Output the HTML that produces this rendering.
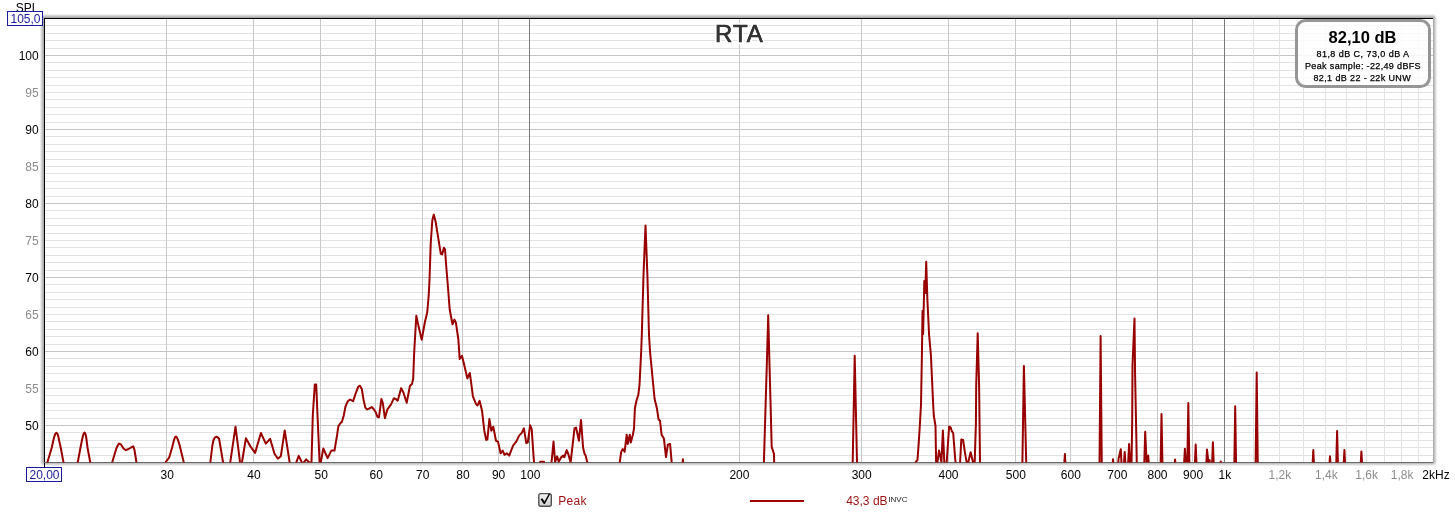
<!DOCTYPE html><html><head><meta charset="utf-8"><style>html,body{margin:0;padding:0;width:1455px;height:515px;overflow:hidden;background:#fff}</style></head><body><svg width="1455" height="515" viewBox="0 0 1455 515" style="position:absolute;left:0;top:0;will-change:transform"><defs><linearGradient id="shT" x1="0" y1="1" x2="0" y2="0"><stop offset="0" stop-color="#a8a8a8"/><stop offset="1" stop-color="#ffffff"/></linearGradient><linearGradient id="shL" x1="1" y1="0" x2="0" y2="0"><stop offset="0" stop-color="#a8a8a8"/><stop offset="1" stop-color="#ffffff"/></linearGradient><linearGradient id="shR" x1="0" y1="0" x2="1" y2="0"><stop offset="0" stop-color="#b0b0b0"/><stop offset="1" stop-color="#ffffff"/></linearGradient><linearGradient id="shB" x1="0" y1="0" x2="0" y2="1"><stop offset="0" stop-color="#b0b0b0"/><stop offset="1" stop-color="#ffffff"/></linearGradient><linearGradient id="cbg" x1="0" y1="0" x2="0" y2="1"><stop offset="0" stop-color="#f4f4f4"/><stop offset="1" stop-color="#cfcfcf"/></linearGradient></defs><rect x="0" y="0" width="1455" height="515" fill="#ffffff"/><rect x="40" y="14" width="1397" height="452" rx="4.5" fill="#eeeeee"/><rect x="41" y="15" width="1395" height="450" rx="3.5" fill="#d8d8d8"/><rect x="42" y="16" width="1393" height="448" rx="2.5" fill="#c2c2c2"/><rect x="43" y="17" width="1391" height="446" rx="1.5" fill="#acacac"/><rect x="44" y="18" width="1389" height="444" fill="#fff"/><g shape-rendering="crispEdges"><rect x="44" y="455" width="1389" height="1" fill="#e2e2e2"/><rect x="44" y="447" width="1389" height="1" fill="#e2e2e2"/><rect x="44" y="440" width="1389" height="1" fill="#e2e2e2"/><rect x="44" y="432" width="1389" height="1" fill="#e2e2e2"/><rect x="44" y="425" width="1389" height="1" fill="#c4c4c4"/><rect x="44" y="418" width="1389" height="1" fill="#e2e2e2"/><rect x="44" y="410" width="1389" height="1" fill="#e2e2e2"/><rect x="44" y="403" width="1389" height="1" fill="#e2e2e2"/><rect x="44" y="395" width="1389" height="1" fill="#e2e2e2"/><rect x="44" y="388" width="1389" height="1" fill="#e2e2e2"/><rect x="44" y="381" width="1389" height="1" fill="#e2e2e2"/><rect x="44" y="373" width="1389" height="1" fill="#e2e2e2"/><rect x="44" y="366" width="1389" height="1" fill="#e2e2e2"/><rect x="44" y="358" width="1389" height="1" fill="#e2e2e2"/><rect x="44" y="351" width="1389" height="1" fill="#c4c4c4"/><rect x="44" y="344" width="1389" height="1" fill="#e2e2e2"/><rect x="44" y="336" width="1389" height="1" fill="#e2e2e2"/><rect x="44" y="329" width="1389" height="1" fill="#e2e2e2"/><rect x="44" y="321" width="1389" height="1" fill="#e2e2e2"/><rect x="44" y="314" width="1389" height="1" fill="#e2e2e2"/><rect x="44" y="307" width="1389" height="1" fill="#e2e2e2"/><rect x="44" y="299" width="1389" height="1" fill="#e2e2e2"/><rect x="44" y="292" width="1389" height="1" fill="#e2e2e2"/><rect x="44" y="284" width="1389" height="1" fill="#e2e2e2"/><rect x="44" y="277" width="1389" height="1" fill="#c4c4c4"/><rect x="44" y="270" width="1389" height="1" fill="#e2e2e2"/><rect x="44" y="262" width="1389" height="1" fill="#e2e2e2"/><rect x="44" y="255" width="1389" height="1" fill="#e2e2e2"/><rect x="44" y="247" width="1389" height="1" fill="#e2e2e2"/><rect x="44" y="240" width="1389" height="1" fill="#e2e2e2"/><rect x="44" y="233" width="1389" height="1" fill="#e2e2e2"/><rect x="44" y="225" width="1389" height="1" fill="#e2e2e2"/><rect x="44" y="218" width="1389" height="1" fill="#e2e2e2"/><rect x="44" y="210" width="1389" height="1" fill="#e2e2e2"/><rect x="44" y="203" width="1389" height="1" fill="#c4c4c4"/><rect x="44" y="196" width="1389" height="1" fill="#e2e2e2"/><rect x="44" y="188" width="1389" height="1" fill="#e2e2e2"/><rect x="44" y="181" width="1389" height="1" fill="#e2e2e2"/><rect x="44" y="173" width="1389" height="1" fill="#e2e2e2"/><rect x="44" y="166" width="1389" height="1" fill="#e2e2e2"/><rect x="44" y="159" width="1389" height="1" fill="#e2e2e2"/><rect x="44" y="151" width="1389" height="1" fill="#e2e2e2"/><rect x="44" y="144" width="1389" height="1" fill="#e2e2e2"/><rect x="44" y="136" width="1389" height="1" fill="#e2e2e2"/><rect x="44" y="129" width="1389" height="1" fill="#c4c4c4"/><rect x="44" y="122" width="1389" height="1" fill="#e2e2e2"/><rect x="44" y="114" width="1389" height="1" fill="#e2e2e2"/><rect x="44" y="107" width="1389" height="1" fill="#e2e2e2"/><rect x="44" y="99" width="1389" height="1" fill="#e2e2e2"/><rect x="44" y="92" width="1389" height="1" fill="#e2e2e2"/><rect x="44" y="85" width="1389" height="1" fill="#e2e2e2"/><rect x="44" y="77" width="1389" height="1" fill="#e2e2e2"/><rect x="44" y="70" width="1389" height="1" fill="#e2e2e2"/><rect x="44" y="62" width="1389" height="1" fill="#e2e2e2"/><rect x="44" y="55" width="1389" height="1" fill="#c4c4c4"/><rect x="44" y="48" width="1389" height="1" fill="#e2e2e2"/><rect x="44" y="40" width="1389" height="1" fill="#e2e2e2"/><rect x="44" y="33" width="1389" height="1" fill="#e2e2e2"/><rect x="44" y="25" width="1389" height="1" fill="#e2e2e2"/><rect x="166" y="18" width="1" height="444" fill="#c8c8c8"/><rect x="253" y="18" width="1" height="444" fill="#c8c8c8"/><rect x="320" y="18" width="1" height="444" fill="#c8c8c8"/><rect x="375" y="18" width="1" height="444" fill="#c8c8c8"/><rect x="422" y="18" width="1" height="444" fill="#c8c8c8"/><rect x="462" y="18" width="1" height="444" fill="#c8c8c8"/><rect x="498" y="18" width="1" height="444" fill="#c8c8c8"/><rect x="529" y="18" width="1" height="444" fill="#7a7a7a"/><rect x="739" y="18" width="1" height="444" fill="#c8c8c8"/><rect x="861" y="18" width="1" height="444" fill="#c8c8c8"/><rect x="948" y="18" width="1" height="444" fill="#c8c8c8"/><rect x="1015" y="18" width="1" height="444" fill="#c8c8c8"/><rect x="1070" y="18" width="1" height="444" fill="#c8c8c8"/><rect x="1116" y="18" width="1" height="444" fill="#c8c8c8"/><rect x="1157" y="18" width="1" height="444" fill="#c8c8c8"/><rect x="1192" y="18" width="1" height="444" fill="#c8c8c8"/><rect x="1224" y="18" width="1" height="444" fill="#7a7a7a"/><rect x="1253" y="18" width="1" height="444" fill="#e2e2e2"/><rect x="1279" y="18" width="1" height="444" fill="#e2e2e2"/><rect x="1303" y="18" width="1" height="444" fill="#e2e2e2"/><rect x="1325" y="18" width="1" height="444" fill="#e2e2e2"/><rect x="1346" y="18" width="1" height="444" fill="#e2e2e2"/><rect x="1366" y="18" width="1" height="444" fill="#e2e2e2"/><rect x="1384" y="18" width="1" height="444" fill="#e2e2e2"/><rect x="1401" y="18" width="1" height="444" fill="#e2e2e2"/><rect x="1418" y="18" width="1" height="444" fill="#e2e2e2"/><rect x="44" y="18" width="1389" height="1" fill="#000"/><rect x="44" y="18" width="1" height="449" fill="#000"/><rect x="44" y="462" width="1389" height="1" fill="#6a6a6a"/></g><clipPath id="pc"><rect x="45" y="19" width="1388" height="443.5"/></clipPath><g clip-path="url(#pc)"><path d="M46.5,466.0 L47.5,462.0 L51.8,447.5 L53.3,440.5 L54.4,436.3 L55.4,433.7 L56.4,432.9 L57.4,433.7 L58.3,436.3 L59.1,440.5 L60.7,447.5 L63.4,462.0 L64.0,466.0" fill="none" stroke="#980000" stroke-width="2" stroke-linejoin="round" stroke-linecap="butt"/><path d="M77.3,466.0 L77.8,462.0 L80.5,447.5 L82.0,440.0 L82.9,436.3 L83.7,433.5 L84.5,432.6 L85.3,433.5 L86.1,436.5 L87.5,447.5 L90.2,462.0 L90.7,466.0" fill="none" stroke="#980000" stroke-width="2" stroke-linejoin="round" stroke-linecap="butt"/><path d="M111.8,466.0 L112.3,462.0 L114.3,455.3 L116.5,448.0 L118.9,443.6 L121.0,444.5 L123.5,448.5 L125.9,450.2 L128.5,449.0 L131.0,447.5 L133.3,446.4 L134.5,450.0 L136.4,462.0 L136.8,466.0" fill="none" stroke="#980000" stroke-width="2" stroke-linejoin="round" stroke-linecap="butt"/><path d="M165.0,466.0 L165.7,462.0 L169.1,457.7 L172.0,448.0 L174.0,440.0 L175.0,437.3 L175.9,436.5 L176.8,437.3 L177.7,439.3 L179.3,444.1 L181.5,453.0 L183.7,462.0 L184.2,466.0" fill="none" stroke="#980000" stroke-width="2" stroke-linejoin="round" stroke-linecap="butt"/><path d="M210.0,466.0 L210.4,462.0 L212.3,446.0 L213.5,440.0 L215.0,437.3 L216.2,436.8 L217.5,437.2 L219.1,438.8 L221.0,450.0 L223.0,462.0 L223.3,466.0" fill="none" stroke="#980000" stroke-width="2" stroke-linejoin="round" stroke-linecap="butt"/><path d="M229.8,466.0 L230.3,462.0 L235.5,426.7 L240.0,462.0 L241.0,466.0 L242.0,462.0 L245.9,438.3 L250.2,446.1 L255.1,452.9 L260.9,433.0 L265.8,443.6 L270.1,438.8 L274.5,453.8 L277.9,458.7 L280.8,456.3 L284.7,430.5 L289.6,462.0 L290.0,466.0" fill="none" stroke="#980000" stroke-width="2" stroke-linejoin="round" stroke-linecap="butt"/><path d="M296.0,466.0 L296.3,462.4 L298.7,455.9 L301.9,462.4 L302.5,464.0 L306.2,459.4 L309.4,462.4 L310.5,464.0 L311.5,462.0 L312.8,415.0 L314.8,384.5 L316.2,384.5 L317.5,415.0 L319.6,462.4 L320.0,466.0 L320.8,462.4 L323.3,448.5 L327.6,458.1 L331.3,450.6 L334.5,450.6 L337.1,435.0 L338.3,426.6 L339.9,423.9 L342.0,421.5 L343.7,415.8 L345.5,406.5 L347.8,401.2 L350.1,399.5 L353.1,401.2 L355.4,394.2 L358.3,386.7 L360.0,385.7 L361.8,389.0 L363.5,399.5 L365.3,407.6 L367.0,409.4 L370.0,408.2 L371.7,407.0 L373.4,408.8 L375.8,412.3 L377.5,417.0 L379.0,417.2 L381.4,398.9 L382.8,403.0 L384.9,418.1 L387.4,409.4 L390.9,404.7 L393.8,398.3 L396.0,399.2 L397.7,400.7 L401.2,388.1 L403.5,392.8 L406.7,402.7 L410.0,385.8 L412.0,384.0 L413.2,378.8 L414.0,356.7 L414.6,345.0 L416.3,315.7 L418.6,326.6 L421.7,339.8 L424.9,322.0 L427.2,312.6 L428.7,295.5 L429.5,280.0 L430.7,243.8 L432.3,220.5 L433.8,214.6 L435.7,222.1 L438.2,237.6 L440.8,253.9 L442.1,254.4 L443.9,247.7 L445.0,249.3 L446.3,267.1 L447.8,285.0 L449.7,309.5 L452.5,324.3 L454.4,319.6 L455.9,322.7 L458.3,339.0 L459.7,359.0 L462.0,355.9 L464.3,365.2 L467.4,378.4 L469.8,373.0 L471.3,383.8 L472.9,396.3 L476.0,404.0 L477.5,405.4 L479.6,400.9 L482.0,410.5 L484.3,430.7 L486.2,440.0 L487.4,439.3 L489.4,419.1 L491.3,430.7 L493.3,426.8 L496.0,440.8 L498.0,441.6 L500.6,453.3 L502.7,450.6 L504.5,454.8 L506.8,453.3 L509.2,455.6 L513.1,445.5 L516.2,441.6 L519.3,435.4 L521.6,433.1 L523.9,428.4 L526.3,443.2 L527.8,442.4 L530.1,425.3 L531.7,429.2 L534.0,462.6 L534.5,466.0" fill="none" stroke="#980000" stroke-width="2" stroke-linejoin="round" stroke-linecap="butt"/><path d="M539.5,466.0 L540.2,461.8 L544.1,461.8 L544.8,466.0" fill="none" stroke="#980000" stroke-width="2" stroke-linejoin="round" stroke-linecap="butt"/><path d="M551.0,466.0 L551.5,462.6 L553.5,441.6 L555.1,461.8 L557.1,456.4 L558.7,461.8 L561.3,457.1 L563.3,455.6 L564.4,457.1 L566.7,450.1 L568.3,454.0 L570.6,462.6 L574.5,428.4 L576.1,427.6 L578.9,440.8 L581.0,419.9 L583.1,447.8 L584.6,454.0 L585.7,455.6 L587.3,462.6 L587.8,466.0" fill="none" stroke="#980000" stroke-width="2" stroke-linejoin="round" stroke-linecap="butt"/><path d="M619.2,466.0 L619.7,462.7 L621.2,451.8 L622.8,449.0 L624.6,451.8 L626.7,434.7 L627.7,444.0 L629.8,434.7 L630.8,442.5 L632.9,434.7 L634.0,428.5 L634.9,408.3 L636.7,399.8 L638.3,395.0 L639.5,385.0 L641.2,351.3 L641.8,335.0 L643.5,275.0 L645.5,225.5 L647.4,275.0 L649.0,335.0 L650.0,351.3 L654.6,399.0 L656.9,408.3 L658.5,419.2 L660.0,420.7 L661.6,434.7 L663.9,438.6 L666.0,457.2 L667.8,444.8 L670.1,444.0 L671.7,462.7 L672.0,466.0" fill="none" stroke="#980000" stroke-width="2" stroke-linejoin="round" stroke-linecap="butt"/><path d="M682.3,466.0 L682.9,459.3 L683.5,466.0" fill="none" stroke="#980000" stroke-width="2" stroke-linejoin="round" stroke-linecap="butt"/><path d="M763.5,466.0 L763.9,462.1 L765.6,405.0 L766.8,365.0 L768.2,315.3 L769.5,365.0 L770.6,405.0 L771.7,447.0 L774.0,453.9 L774.2,466.0" fill="none" stroke="#980000" stroke-width="2" stroke-linejoin="round" stroke-linecap="butt"/><path d="M852.5,466.0 L852.7,462.0 L854.7,355.7 L857.0,462.0 L857.2,466.0" fill="none" stroke="#980000" stroke-width="2" stroke-linejoin="round" stroke-linecap="butt"/><path d="M915.5,466.0 L915.7,462.1 L917.5,459.8 L918.6,444.6 L919.8,426.0 L921.0,405.0 L921.9,355.0 L922.2,334.0 L922.5,311.0 L923.1,334.0 L923.9,300.0 L924.3,281.0 L925.3,293.0 L926.2,261.7 L927.4,300.0 L929.1,335.0 L930.9,355.0 L933.2,405.0 L933.8,415.5 L935.5,426.0 L936.1,462.1 L936.6,466.0 L937.5,462.0 L939.0,450.4 L941.4,462.1 L942.9,430.6 L944.3,462.1 L944.7,466.0 L946.3,466.0 L946.7,462.1 L949.1,426.6 L950.8,427.7 L951.8,431.2 L953.2,433.0 L954.9,455.1 L955.5,462.1 L956.0,466.0" fill="none" stroke="#980000" stroke-width="2" stroke-linejoin="round" stroke-linecap="butt"/><path d="M959.8,466.0 L960.1,462.1 L961.3,439.4 L963.1,440.0 L964.8,451.6 L966.6,462.1 L967.0,466.0 L968.3,462.1 L970.6,452.2 L973.0,462.1 L973.5,466.0 L974.7,462.1 L975.9,423.6 L976.2,385.0 L977.7,333.2 L979.1,385.0 L980.0,462.1 L980.3,466.0" fill="none" stroke="#980000" stroke-width="2" stroke-linejoin="round" stroke-linecap="butt"/><path d="M1022.2,466.0 L1022.4,462.0 L1023.9,366.1 L1026.2,462.0 L1026.4,466.0" fill="none" stroke="#980000" stroke-width="2" stroke-linejoin="round" stroke-linecap="butt"/><path d="M1064.2,466.0 L1064.9,454.0 L1065.6,466.0" fill="none" stroke="#980000" stroke-width="2" stroke-linejoin="round" stroke-linecap="butt"/><path d="M1099.5,466.0 L1100.6,336.0 L1101.8,466.0" fill="none" stroke="#980000" stroke-width="2" stroke-linejoin="round" stroke-linecap="butt"/><path d="M1112.5,466.0 L1113.0,459.3 L1113.6,466.0" fill="none" stroke="#980000" stroke-width="2" stroke-linejoin="round" stroke-linecap="butt"/><path d="M1118.0,466.0 L1118.6,458.5 L1120.8,449.3 L1121.6,466.0 L1123.8,466.0 L1124.7,451.9 L1125.6,466.0 L1128.0,466.0 L1129.1,444.0 L1130.3,466.0 L1131.5,466.0 L1132.2,420.0 L1132.5,365.0 L1134.5,318.5 L1135.1,375.0 L1136.3,435.0 L1136.8,466.0" fill="none" stroke="#980000" stroke-width="2" stroke-linejoin="round" stroke-linecap="butt"/><path d="M1144.2,466.0 L1145.2,431.7 L1146.6,462.0 L1148.2,455.5 L1149.0,466.0" fill="none" stroke="#980000" stroke-width="2" stroke-linejoin="round" stroke-linecap="butt"/><path d="M1160.6,466.0 L1161.5,414.0 L1162.5,466.0" fill="none" stroke="#980000" stroke-width="2" stroke-linejoin="round" stroke-linecap="butt"/><path d="M1174.5,466.0 L1175.1,459.6 L1175.7,466.0" fill="none" stroke="#980000" stroke-width="2" stroke-linejoin="round" stroke-linecap="butt"/><path d="M1184.0,466.0 L1184.9,448.7 L1186.0,466.0 L1187.3,466.0 L1188.3,402.9 L1189.4,466.0" fill="none" stroke="#980000" stroke-width="2" stroke-linejoin="round" stroke-linecap="butt"/><path d="M1194.8,466.0 L1195.7,444.6 L1196.6,466.0" fill="none" stroke="#980000" stroke-width="2" stroke-linejoin="round" stroke-linecap="butt"/><path d="M1206.2,466.0 L1207.0,449.5 L1208.4,462.0 L1209.6,460.1 L1210.3,466.0 L1212.0,466.0 L1212.9,442.3 L1213.8,466.0" fill="none" stroke="#980000" stroke-width="2" stroke-linejoin="round" stroke-linecap="butt"/><path d="M1220.2,466.0 L1220.8,461.5 L1221.4,466.0" fill="none" stroke="#980000" stroke-width="2" stroke-linejoin="round" stroke-linecap="butt"/><path d="M1234.3,466.0 L1235.2,406.2 L1236.1,466.0" fill="none" stroke="#980000" stroke-width="2" stroke-linejoin="round" stroke-linecap="butt"/><path d="M1255.6,466.0 L1256.7,372.4 L1257.8,466.0" fill="none" stroke="#980000" stroke-width="2" stroke-linejoin="round" stroke-linecap="butt"/><path d="M1312.5,466.0 L1313.3,450.0 L1314.1,466.0" fill="none" stroke="#980000" stroke-width="2" stroke-linejoin="round" stroke-linecap="butt"/><path d="M1329.3,466.0 L1330.0,456.3 L1330.7,466.0" fill="none" stroke="#980000" stroke-width="2" stroke-linejoin="round" stroke-linecap="butt"/><path d="M1336.2,466.0 L1337.1,431.0 L1338.0,466.0" fill="none" stroke="#980000" stroke-width="2" stroke-linejoin="round" stroke-linecap="butt"/><path d="M1343.6,466.0 L1344.4,450.0 L1345.2,466.0" fill="none" stroke="#980000" stroke-width="2" stroke-linejoin="round" stroke-linecap="butt"/><path d="M1360.6,466.0 L1361.4,451.4 L1362.2,466.0" fill="none" stroke="#980000" stroke-width="2" stroke-linejoin="round" stroke-linecap="butt"/></g><text x="739.5" y="42" font-family="Liberation Sans, sans-serif" font-size="24" letter-spacing="1" text-anchor="middle" fill="#333" stroke="#fff" stroke-width="4" paint-order="stroke" stroke-linejoin="round">RTA</text><text x="739.5" y="42" font-family="Liberation Sans, sans-serif" font-size="24" letter-spacing="1" text-anchor="middle" fill="#333" stroke="#333" stroke-width="0.6">RTA</text><text x="38.7" y="430.2" font-family="Liberation Sans, sans-serif" font-size="12" text-anchor="end" fill="#000">50</text><text x="38.7" y="393.2" font-family="Liberation Sans, sans-serif" font-size="12" text-anchor="end" fill="#8c8c8c">55</text><text x="38.7" y="356.2" font-family="Liberation Sans, sans-serif" font-size="12" text-anchor="end" fill="#000">60</text><text x="38.7" y="319.2" font-family="Liberation Sans, sans-serif" font-size="12" text-anchor="end" fill="#8c8c8c">65</text><text x="38.7" y="282.2" font-family="Liberation Sans, sans-serif" font-size="12" text-anchor="end" fill="#000">70</text><text x="38.7" y="245.2" font-family="Liberation Sans, sans-serif" font-size="12" text-anchor="end" fill="#8c8c8c">75</text><text x="38.7" y="208.2" font-family="Liberation Sans, sans-serif" font-size="12" text-anchor="end" fill="#000">80</text><text x="38.7" y="171.2" font-family="Liberation Sans, sans-serif" font-size="12" text-anchor="end" fill="#8c8c8c">85</text><text x="38.7" y="134.2" font-family="Liberation Sans, sans-serif" font-size="12" text-anchor="end" fill="#000">90</text><text x="38.7" y="97.2" font-family="Liberation Sans, sans-serif" font-size="12" text-anchor="end" fill="#8c8c8c">95</text><text x="38.7" y="60.2" font-family="Liberation Sans, sans-serif" font-size="12" text-anchor="end" fill="#000">100</text><text x="167.2" y="479" font-family="Liberation Sans, sans-serif" font-size="12" text-anchor="middle" fill="#000">30</text><text x="254.0" y="479" font-family="Liberation Sans, sans-serif" font-size="12" text-anchor="middle" fill="#000">40</text><text x="321.3" y="479" font-family="Liberation Sans, sans-serif" font-size="12" text-anchor="middle" fill="#000">50</text><text x="376.3" y="479" font-family="Liberation Sans, sans-serif" font-size="12" text-anchor="middle" fill="#000">60</text><text x="422.8" y="479" font-family="Liberation Sans, sans-serif" font-size="12" text-anchor="middle" fill="#000">70</text><text x="463.0" y="479" font-family="Liberation Sans, sans-serif" font-size="12" text-anchor="middle" fill="#000">80</text><text x="498.6" y="479" font-family="Liberation Sans, sans-serif" font-size="12" text-anchor="middle" fill="#000">90</text><text x="530.3" y="479" font-family="Liberation Sans, sans-serif" font-size="12" text-anchor="middle" fill="#000">100</text><text x="739.4" y="479" font-family="Liberation Sans, sans-serif" font-size="12" text-anchor="middle" fill="#000">200</text><text x="861.7" y="479" font-family="Liberation Sans, sans-serif" font-size="12" text-anchor="middle" fill="#000">300</text><text x="948.5" y="479" font-family="Liberation Sans, sans-serif" font-size="12" text-anchor="middle" fill="#000">400</text><text x="1015.8" y="479" font-family="Liberation Sans, sans-serif" font-size="12" text-anchor="middle" fill="#000">500</text><text x="1070.8" y="479" font-family="Liberation Sans, sans-serif" font-size="12" text-anchor="middle" fill="#000">600</text><text x="1117.3" y="479" font-family="Liberation Sans, sans-serif" font-size="12" text-anchor="middle" fill="#000">700</text><text x="1157.5" y="479" font-family="Liberation Sans, sans-serif" font-size="12" text-anchor="middle" fill="#000">800</text><text x="1193.1" y="479" font-family="Liberation Sans, sans-serif" font-size="12" text-anchor="middle" fill="#000">900</text><text x="1224.8" y="479" font-family="Liberation Sans, sans-serif" font-size="12" text-anchor="middle" fill="#000">1k</text><text x="1279.8" y="479" font-family="Liberation Sans, sans-serif" font-size="12" text-anchor="middle" fill="#8c8c8c">1,2k</text><text x="1326.3" y="479" font-family="Liberation Sans, sans-serif" font-size="12" text-anchor="middle" fill="#8c8c8c">1,4k</text><text x="1366.6" y="479" font-family="Liberation Sans, sans-serif" font-size="12" text-anchor="middle" fill="#8c8c8c">1,6k</text><text x="1402.1" y="479" font-family="Liberation Sans, sans-serif" font-size="12" text-anchor="middle" fill="#8c8c8c">1,8k</text><text x="1436" y="479" font-family="Liberation Sans, sans-serif" font-size="12" text-anchor="middle" fill="#000">2kHz</text><text x="27" y="12" font-family="Liberation Sans, sans-serif" font-size="12" text-anchor="middle" fill="#000">SPL</text><rect x="7.5" y="11.5" width="35" height="14" fill="#fff" stroke="#1a1a9c" stroke-width="1"/><text x="25.5" y="23" font-family="Liberation Sans, sans-serif" font-size="12" text-anchor="middle" fill="#1a1a9c">105,0</text><rect x="26.5" y="467.5" width="35" height="14" fill="#fff" stroke="#1a1a9c" stroke-width="1"/><text x="44.5" y="479" font-family="Liberation Sans, sans-serif" font-size="12" text-anchor="middle" fill="#1a1a9c">20,00</text><rect x="44" y="467" width="1" height="1" fill="#000"/><rect x="1296.5" y="20.5" width="133" height="66" rx="9" ry="9" fill="rgba(255,255,255,0.82)" stroke="#969696" stroke-width="3"/><text x="1362.5" y="42.6" font-family="Liberation Sans, sans-serif" font-size="16.5" font-weight="bold" text-anchor="middle" fill="#000">82,10 dB</text><text x="1363" y="56.8" font-family="Liberation Sans, sans-serif" font-size="9" letter-spacing="0.45" text-anchor="middle" fill="#000" stroke="#000" stroke-width="0.25">81,8 dB C, 73,0 dB A</text><text x="1363" y="68.8" font-family="Liberation Sans, sans-serif" font-size="9" letter-spacing="0.35" text-anchor="middle" fill="#000" stroke="#000" stroke-width="0.25">Peak sample: -22,49 dBFS</text><text x="1362.3" y="80.6" font-family="Liberation Sans, sans-serif" font-size="9" letter-spacing="0.38" text-anchor="middle" fill="#000" stroke="#000" stroke-width="0.25">82,1 dB 22 - 22k UNW</text><rect x="538.8" y="493.6" width="12.5" height="12.6" rx="2" fill="url(#cbg)" stroke="#505050" stroke-width="1.4"/><path d="M540.6,499.3 L542.3,498.3 L544.5,501.4 L548.6,493.9 L550.2,494 L544.9,503.9 L543.8,503.9 Z" fill="#000"/><text x="558.2" y="505" font-family="Liberation Sans, sans-serif" font-size="12" letter-spacing="0.35" fill="#9a1010">Peak</text><rect x="750" y="500" width="54" height="2" fill="#a00000"/><text x="846.2" y="505" font-family="Liberation Sans, sans-serif" font-size="12" fill="#9a1010">43,3 dB</text><text x="888.3" y="502" font-family="Liberation Sans, sans-serif" font-size="8" fill="#222">INVC</text></svg></body></html>
